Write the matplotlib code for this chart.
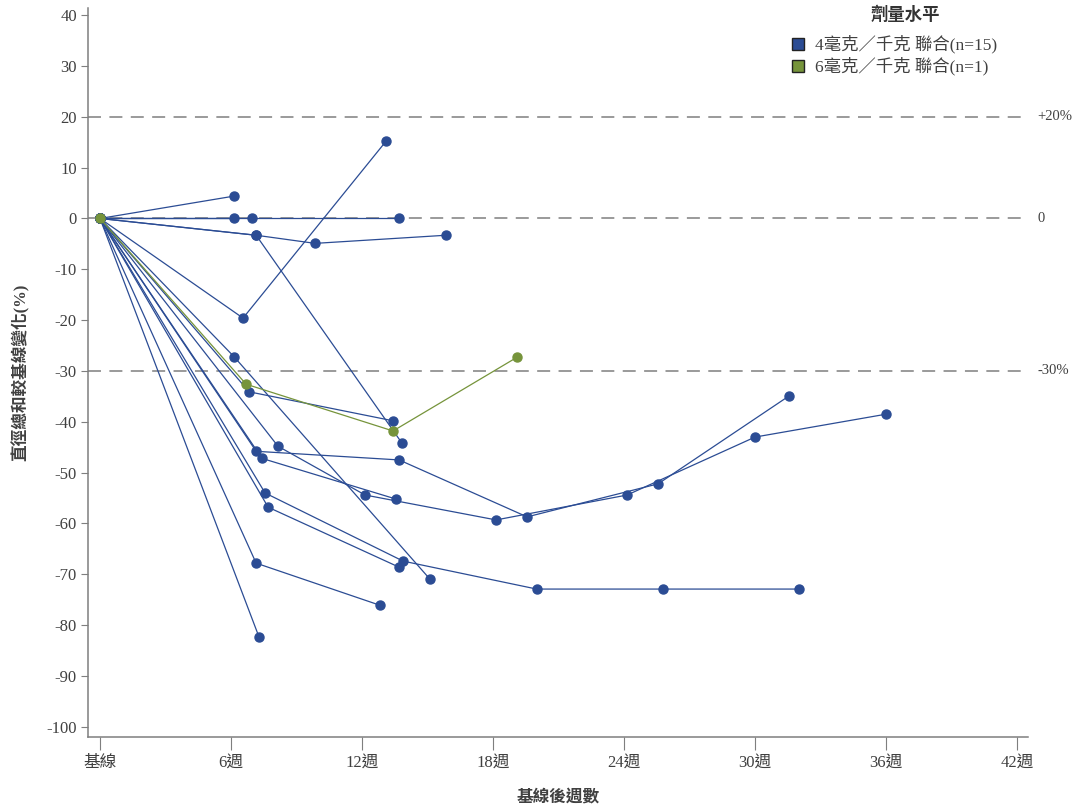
import matplotlib
matplotlib.use("Agg")
import matplotlib.pyplot as plt
from matplotlib.lines import Line2D
from matplotlib.transforms import blended_transform_factory

plt.rcParams['font.family'] = ['Liberation Serif', 'Noto Sans CJK TC']
plt.rcParams['axes.unicode_minus'] = False

# weeks after baseline / % change from baseline, one list per patient
blue_weeks = [
    [0, 6.14],
    [0, 6.14],
    [0, 6.97, 13.7],
    [0, 7.15, 9.85, 15.85],
    [0, 7.15, 13.83],
    [0, 6.55, 13.1],
    [0, 6.14, 15.1],
    [0, 6.83, 13.42],
    [0, 7.15, 13.7, 19.56, 25.56, 31.56],
    [0, 7.42, 13.56],
    [0, 8.15, 12.14, 18.14, 24.14, 30.0, 36.0],
    [0, 7.56, 13.88, 20.0, 25.8, 32.0],
    [0, 7.7, 13.7],
    [0, 7.15, 12.83],
    [0, 7.28],
]
blue_pct = [
    [0, 4.4],
    [0, 0],
    [0, 0, 0],
    [0, -3.3, -4.9, -3.3],
    [0, -3.3, -44.2],
    [0, -19.6, 15.2],
    [0, -27.2, -70.9],
    [0, -34.1, -39.8],
    [0, -45.8, -47.5, -58.7, -52.2, -34.9],
    [0, -47.2, -55.2],
    [0, -44.8, -54.4, -59.3, -54.4, -43.0, -38.5],
    [0, -54.0, -67.4, -72.9, -72.9, -72.9],
    [0, -56.8, -68.6],
    [0, -67.8, -76.1],
    [0, -82.3],
]
green_weeks = [0, 6.69, 13.42, 19.1]
green_pct = [0, -32.6, -41.8, -27.3]

ref_lines = [20, 0, -30]
ref_labels = ['+20%', '0', '-30%']
x_ticks = [0, 6, 12, 18, 24, 30, 36, 42]
x_labels = ['基線', '6週', '12週', '18週', '24週', '30週', '36週', '42週']
y_ticks = list(range(40, -101, -10))

blue = '#2b4c94'
green = '#76943b'
grey = '#7f7f7f'
txt = '#404040'

fig = plt.figure(figsize=(10.78, 8.10), dpi=100)
ax = fig.add_axes([88 / 1078, 1 - 737 / 810, (1028 - 88) / 1078, (737 - 8) / 810])

for y in ref_lines:
    ax.axhline(y, color=grey, lw=1.1, dashes=(8.5, 5.5), zorder=1)

for w, p in zip(blue_weeks, blue_pct):
    ax.plot(w, p, color=blue, lw=0.9, marker='o', markersize=6.5, zorder=3)
ax.plot(green_weeks, green_pct, color=green, lw=0.9, marker='o', markersize=6.5, zorder=4)

ax.set_xlim(-0.55, 42.5)
ax.set_ylim(-102, 41.4)
ax.set_xticks(x_ticks)
ax.set_xticklabels(x_labels, fontsize=12, color=txt)
ax.set_yticks(y_ticks)
ax.set_yticklabels([str(v) for v in y_ticks], fontsize=12, color=txt)
ax.tick_params(axis='x', length=9, color=grey, pad=4)
ax.tick_params(axis='y', length=5, color=grey, pad=3)

for s in ['top', 'right']:
    ax.spines[s].set_visible(False)
for s in ['left', 'bottom']:
    ax.spines[s].set_color(grey)
    ax.spines[s].set_linewidth(1.1)

right_tf = blended_transform_factory(fig.transFigure, ax.transData)
for y, lab in zip(ref_lines, ref_labels):
    ax.text(1037 / 1078, y, lab, transform=right_tf,
            va='center', ha='left', fontsize=10.5, color=txt)

ax.set_xlabel('基線後週數', fontsize=12, fontweight='bold', color=txt, labelpad=14)
ax.set_ylabel('直徑總和較基線變化(%)', fontsize=12, fontweight='bold', color=txt, labelpad=12)

handles = [
    Line2D([], [], ls='none', marker='s', markersize=8, markerfacecolor=blue, markeredgecolor='#222222'),
    Line2D([], [], ls='none', marker='s', markersize=8, markerfacecolor=green, markeredgecolor='#222222'),
]
leg = ax.legend(handles, ['4毫克／千克 聯合(n=15)', '6毫克／千克 聯合(n=1)'],
                loc='upper left',
                bbox_to_anchor=(789 / 1078, 1 - 35 / 810), bbox_transform=fig.transFigure,
                frameon=False, fontsize=12.5, handletextpad=0.5, labelspacing=0.2,
                handlelength=1.0, borderpad=0.0, borderaxespad=0.0)
for t in leg.get_texts():
    t.set_color(txt)
fig.text(905 / 1078, 1 - 15 / 810, '劑量水平', ha='center', va='center',
         fontsize=12.5, fontweight='bold', color='#333333')

fig.savefig('out.png', dpi=100)
